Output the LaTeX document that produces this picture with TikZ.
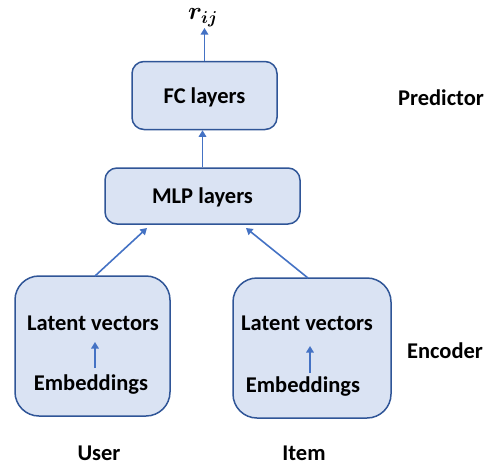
\documentclass[tikz,border=0pt]{standalone}
\usepackage{fontspec}
\setmainfont{Carlito}
\usepackage{amsmath,bm}
\usetikzlibrary{arrows.meta}
\definecolor{boxfill}{HTML}{DAE3F3}
\definecolor{boxline}{HTML}{2F5597}
\definecolor{arrowblue}{HTML}{4472C4}
\tikzset{
	layerbox/.style={draw=boxline, fill=boxfill, line width=1.5pt, rounded corners=12pt},
	encbox/.style={draw=boxline, fill=boxfill, line width=1.5pt, rounded corners=24pt},
	lbl/.style={font=\fontsize{22.5}{25}\selectfont\bfseries, inner sep=1pt},
	flow/.style={draw=arrowblue, line width=1.6pt, -{Triangle[length=6.5pt,width=7.5pt]}},
}
\begin{document}
\begin{tikzpicture}[x=1pt, y=-1pt]
			%%%%% START %%%%%
			\useasboundingbox (0, 0) rectangle (495, 466);
			
			\node[layerbox, minimum width=145pt, minimum height=68pt] (fc) at (204.5, 95.5) {};
			\node[lbl] (fctext) at (204.5, 97) {FC layers};
			\node[layerbox, minimum width=195pt, minimum height=56pt] (mlp) at (202.5, 196) {};
			\node[lbl] (mlptext) at (202.5, 197) {MLP layers};
			
			\node[encbox, minimum width=155pt, minimum height=140pt] (user) at (92.5, 346) {};
			\node[encbox, minimum width=158pt, minimum height=140pt] (item) at (312, 348) {};
			
			\node[lbl] (ulat) at (93, 323) {Latent vectors};
			\node[lbl] (uemb) at (91, 385) {Embeddings};
			\node[lbl] (ilat) at (307, 323) {Latent vectors};
			\node[lbl] (iemb) at (303, 387) {Embeddings};
			
			\node[font=\fontsize{26}{30}\selectfont, inner sep=0pt] (rij) at (203, 18) {$\bm{r_{ij}}$};
			\node[lbl] (pred) at (441, 98) {Predictor};
			\node[lbl] (enc) at (445, 351) {Encoder};
			\node[lbl] (usr) at (99, 453) {User};
			\node[lbl] (itm) at (304, 453) {Item};
			
			\coordinate (mlpinu) at (147, 228);
			\coordinate (mlpini) at (246, 228);
			\coordinate (rin) at (204.5, 28);
			
			\draw[flow] (fc.north) -- (rin);
			\draw[flow] (mlp.north) -- (mlp.north |- fc.south);
			\draw[flow] (95, 276) -- (mlpinu);
			\draw[flow] (308, 278) -- (mlpini);
			\draw[flow] (95, 368) -- (95, 342);
			\draw[flow] (310, 373) -- (310, 346);
			%%%%% END %%%%%
\end{tikzpicture}
\end{document}
